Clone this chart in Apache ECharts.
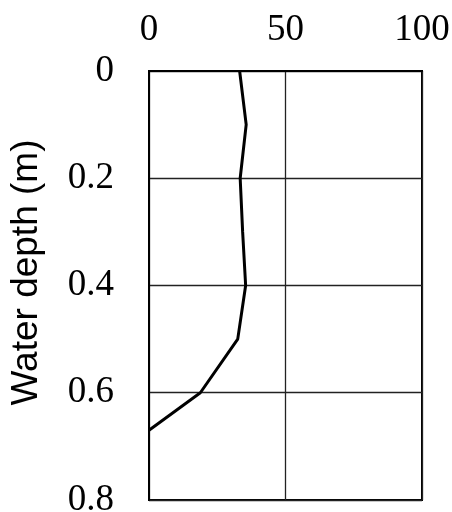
<!DOCTYPE html>
<html>
<head>
<meta charset="utf-8">
<script src="https://cdn.jsdelivr.net/npm/echarts@6/dist/echarts.min.js"></script>
<style>
  html, body { margin: 0; padding: 0; background: #fff; }
  #chart { width: 452px; height: 512px; }
</style>
</head>
<body>
<div id="chart"></div>
<script>
// Velocity profile over the water column
const depths = [0, 0.1, 0.2, 0.3, 0.4, 0.5, 0.6, 0.67];
const values = [33.2, 35.6, 33.4, 34.3, 35.4, 32.5, 18.8, 0];
const xTicks = [0, 50, 100];
const yTicks = [0, 0.2, 0.4, 0.6, 0.8];

const profile = depths.map((d, i) => [values[i], d]);

const chart = echarts.init(document.getElementById('chart'), null, { renderer: 'canvas' });
chart.setOption({
  animation: false,
  backgroundColor: '#ffffff',
  grid: {
    left: 149, top: 71, right: 30, bottom: 12,
    containLabel: false,
    outerBoundsMode: 'none',
    show: true, borderColor: '#000', borderWidth: 2, backgroundColor: 'transparent'
  },
  xAxis: {
    type: 'value',
    position: 'top',
    min: xTicks[0], max: xTicks[xTicks.length - 1], interval: xTicks[1] - xTicks[0],
    axisLine: { show: true, lineStyle: { color: '#000', width: 2 } },
    axisTick: { show: false },
    axisLabel: {
      margin: 22,
      fontFamily: 'Liberation Serif', fontSize: 37, color: '#000'
    },
    splitLine: { show: true, lineStyle: { color: '#222', width: 1.3 } }
  },
  yAxis: {
    type: 'value',
    inverse: true,
    min: yTicks[0], max: yTicks[yTicks.length - 1], interval: yTicks[1] - yTicks[0],
    name: 'Water depth (m)',
    nameLocation: 'middle',
    nameGap: 104,
    nameTextStyle: {
      fontFamily: 'Liberation Sans', fontSize: 37, color: '#000',
      padding: [0, 0, 0, 26]
    },
    axisLine: { show: true, lineStyle: { color: '#000', width: 2 } },
    axisTick: { show: false },
    axisLabel: {
      margin: 35,
      fontFamily: 'Liberation Serif', fontSize: 37, color: '#000'
    },
    splitLine: { show: true, lineStyle: { color: '#222', width: 1.3 } }
  },
  series: [{
    type: 'line',
    data: profile,
    showSymbol: false,
    lineStyle: { color: '#000', width: 3 },
    clip: false
  }]
});
</script>
</body>
</html>
